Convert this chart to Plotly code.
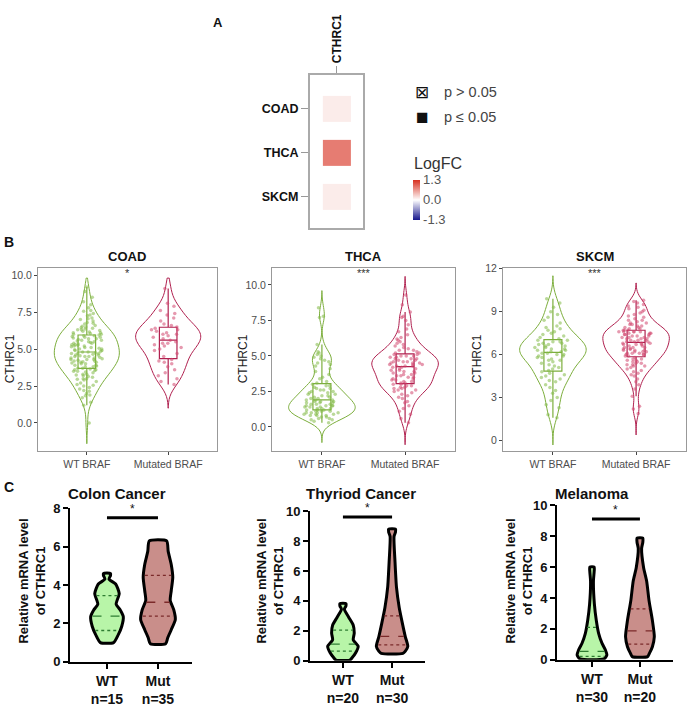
import numpy as np
import plotly.graph_objects as go

W, H = 689, 707
FONT = "Liberation Sans, Arial, sans-serif"

# ---- A: logFC heatmap ---------------------------------------------------
A_GENE = ["CTHRC1"]
A_CANCERS = ["COAD", "THCA", "SKCM"]
A_LOGFC = [0.12, 0.82, 0.12]
A_PLABELS = ["p > 0.05", "p ≤ 0.05"]

B_CANCERS = ["COAD", "THCA", "SKCM"]
B_GROUPS = ["WT BRAF", "Mutated BRAF"]
B_SIG = ["*", "***", "***"]

COAD_WT = [0.0, 1.2, 1.4, 1.7, 1.85, 1.9, 2.0, 2.15, 2.2, 2.3, 2.4, 2.5, 2.55, 2.6,
           2.7, 2.8, 2.9, 2.95, 3.0, 3.0, 3.1, 3.15, 3.2, 3.25, 3.3, 3.3, 3.4, 3.45,
           3.5, 3.5, 3.55, 3.6, 3.6, 3.65, 3.7, 3.7, 3.8, 3.8, 3.85, 3.9, 3.9, 4.0,
           4.0, 4.05, 4.1, 4.1, 4.15, 4.2, 4.2, 4.25, 4.3, 4.3, 4.3, 4.35, 4.4, 4.4,
           4.45, 4.5, 4.5, 4.5, 4.55, 4.6, 4.6, 4.65, 4.7, 4.7, 4.7, 4.75, 4.8, 4.8,
           4.85, 4.9, 4.9, 4.95, 5.0, 5.0, 5.05, 5.1, 5.1, 5.15, 5.2, 5.2, 5.25, 5.3,
           5.3, 5.35, 5.4, 5.4, 5.45, 5.5, 5.5, 5.55, 5.6, 5.6, 5.65, 5.7, 5.7, 5.75,
           5.8, 5.8, 5.85, 5.9, 5.9, 5.95, 6.0, 6.0, 6.05, 6.1, 6.1, 6.15, 6.2, 6.25,
           6.3, 6.3, 6.35, 6.4, 6.45, 6.5, 6.55, 6.6, 6.7, 6.75, 6.8, 6.9, 7.0, 7.05,
           7.1, 7.25, 7.3, 7.4, 7.55, 7.6, 7.8, 8.0, 8.2, 8.5, 8.9, 9.2]
COAD_MUT = [2.6, 2.8, 3.0, 3.2, 3.4, 3.6, 3.8, 4.0, 4.1, 4.2, 4.3,
            4.5, 4.7, 4.9, 5.0, 5.1, 5.2, 5.3, 5.4, 5.4, 5.5, 5.6,
            5.7, 5.8, 5.9, 6.0, 6.0, 6.1, 6.2, 6.3, 6.3, 6.4,
            6.5, 6.6, 6.7, 6.9, 7.1, 7.3, 7.4, 7.6, 7.9, 8.1, 9.1]
THCA_WT = [0.3, 0.4, 0.5, 0.5, 0.6, 0.6, 0.7, 0.7, 0.8, 0.8, 0.8, 0.9, 0.9, 0.9,
           1.0, 1.0, 1.0, 1.0, 1.1, 1.1, 1.1, 1.2, 1.2, 1.2,
           1.3, 1.3, 1.3, 1.4, 1.4, 1.4, 1.5, 1.5, 1.5, 1.5, 1.6, 1.6, 1.6, 1.7,
           1.7, 1.7, 1.8, 1.8, 1.8, 1.9, 1.9, 1.9,
           2.0, 2.0, 2.1, 2.1, 2.2, 2.2, 2.3, 2.3, 2.4, 2.4, 2.5, 2.5, 2.6, 2.6,
           2.7, 2.7, 2.8, 2.9, 2.9, 3.0,
           3.1, 3.2, 3.4, 3.5, 3.7, 3.9, 4.1, 4.3, 4.4, 4.5, 4.6, 4.7, 4.8, 4.9,
           5.0, 5.1, 5.2, 5.3, 5.8, 7.7, 7.8, 8.4]
THCA_MUT = [0.3, 0.6, 0.9, 1.1, 1.3, 1.5, 1.7, 1.8, 2.0, 2.1, 2.2, 2.3, 2.4, 2.5,
            2.6, 2.6, 2.7, 2.7, 2.8, 2.8, 2.9, 2.9, 3.0, 3.0,
            3.1, 3.1, 3.2, 3.2, 3.3, 3.3, 3.4, 3.4, 3.5, 3.5, 3.6, 3.6, 3.7, 3.7,
            3.8, 3.8, 3.9, 3.9, 4.0, 4.0, 4.1, 4.1, 4.2, 4.2,
            4.3, 4.3, 4.3, 4.4, 4.4, 4.4, 4.5, 4.5, 4.5, 4.6, 4.6, 4.6, 4.7, 4.7,
            4.8, 4.8, 4.8, 4.9, 4.9, 5.0, 5.0, 5.0, 5.1, 5.1,
            5.2, 5.2, 5.3, 5.4, 5.4, 5.5, 5.6, 5.7, 5.8, 5.9, 6.0, 6.1, 6.2, 6.3,
            6.5, 6.7, 6.9, 7.2, 7.5, 7.7, 7.8, 8.1, 8.6, 9.3]
SKCM_WT = [1.6, 1.8, 2.3, 2.5, 2.8, 3.0, 3.3, 3.5, 3.7, 3.9, 4.1, 4.2, 4.3, 4.4,
           4.5, 4.6, 4.7, 4.8,
           4.9, 5.0, 5.1, 5.2, 5.3, 5.4, 5.5, 5.6, 5.6, 5.7, 5.8, 5.8, 5.9, 5.9,
           6.0, 6.0, 6.1, 6.1,
           6.2, 6.2, 6.3, 6.3, 6.4, 6.4, 6.5, 6.5, 6.6, 6.6, 6.7, 6.7, 6.8, 6.8,
           6.9, 6.9, 7.0, 7.0,
           7.1, 7.2, 7.3, 7.4, 7.5, 7.6, 7.7, 7.8, 7.9, 8.0, 8.2, 8.4, 8.6, 8.8,
           9.0, 9.3, 9.6, 9.9]
SKCM_MUT = [1.9, 2.2, 2.4, 3.1, 3.6, 3.9, 4.1, 4.3, 4.5, 4.6, 4.7, 4.8, 4.9, 5.0,
            5.1, 5.2, 5.2, 5.3, 5.3, 5.4, 5.4, 5.5, 5.5, 5.6, 5.6, 5.7, 5.7, 5.8,
            5.9, 5.9, 6.0, 6.0, 6.0, 6.1, 6.1, 6.1, 6.2, 6.2, 6.2, 6.3, 6.3, 6.3,
            6.4, 6.4, 6.4, 6.5, 6.5, 6.5, 6.6, 6.6, 6.7, 6.7, 6.7, 6.8, 6.8, 6.8,
            6.9, 6.9, 6.9, 7.0, 7.0, 7.0, 7.1, 7.1, 7.1, 7.2, 7.2, 7.2, 7.3, 7.3,
            7.3, 7.4, 7.4, 7.4, 7.5, 7.5, 7.5, 7.6, 7.6, 7.6, 7.6, 7.6, 7.7, 7.7,
            7.7, 7.8, 7.8, 7.9, 7.9, 8.0, 8.0, 8.1, 8.1, 8.2, 8.2, 8.3, 8.4, 8.4,
            8.5, 8.6, 8.7, 8.8, 8.9, 9.0, 9.1, 9.2, 9.3, 9.4, 9.5, 9.6, 9.7, 9.8]

# violin extents (ends of the tails)
COAD_SPAN = ([-1.4, 9.8], [1.0, 9.8])
THCA_SPAN = ([-1.1, 9.6], [-1.25, 10.6])
SKCM_SPAN = ([-0.3, 11.5], [0.4, 11.0])

# ---- C: qPCR relative mRNA, WT vs Mut -----------------------------------
C_TITLES = ["Colon Cancer", "Thyriod Cancer", "Melanoma"]
C_N_WT = [15, 20, 30]
C_N_MUT = [35, 30, 20]
C_SIG_LEVEL = [7.5, 9.6, 9.1]
C_YMAX = [8, 10, 10]

# violin outlines: level -> half width (in units of group spacing)
COLON_WT_LEVELS = [1.0, 1.4, 1.85, 2.35, 2.7, 3.0, 3.55, 4.05, 4.3, 4.5, 4.6]
COLON_WT_WIDTH = [0.13, 0.22, 0.29, 0.32, 0.26, 0.18, 0.24, 0.17, 0.04, 0.07, 0.07]
COLON_MUT_LEVELS = [0.94, 1.24, 1.67, 2.2, 2.7, 3.2, 3.7, 4.4, 5.07, 5.75, 6.3]
COLON_MUT_WIDTH = [0.15, 0.19, 0.26, 0.34, 0.31, 0.24, 0.26, 0.29, 0.26, 0.2, 0.17]
THYROID_WT_LEVELS = [0.05, 0.22, 0.54, 0.97, 1.4, 1.84, 2.38, 2.9, 3.45, 3.65, 3.82]
THYROID_WT_WIDTH = [0.14, 0.19, 0.26, 0.31, 0.21, 0.23, 0.21, 0.12, 0.03, 0.06, 0.06]
THYROID_MUT_LEVELS = [0.5, 0.65, 0.97, 1.6, 2.5, 3.56, 4.9, 6.6, 8.3, 8.6, 8.8]
THYROID_MUT_WIDTH = [0.22, 0.27, 0.32, 0.27, 0.21, 0.145, 0.09, 0.06, 0.04, 0.07, 0.07]
MELANOMA_WT_LEVELS = [0.06, 0.32, 0.64, 1.06, 1.7, 2.55, 3.6, 5.1, 5.7, 6.0]
MELANOMA_WT_WIDTH = [0.25, 0.31, 0.28, 0.21, 0.14, 0.09, 0.05, 0.03, 0.045, 0.045]
MELANOMA_MUT_LEVELS = [0.21, 0.43, 0.85, 1.49, 2.55, 3.83, 5.1, 5.96, 7.2, 7.6, 7.87]
MELANOMA_MUT_WIDTH = [0.16, 0.2, 0.26, 0.3, 0.26, 0.19, 0.14, 0.077, 0.035, 0.06, 0.06]

# quartiles (q1, median, q3)
COLON_WT_Q = [1.63, 2.38, 3.45]
COLON_MUT_Q = [2.38, 3.1, 4.5]
THYROID_WT_Q = [0.65, 1.12, 2.05]
THYROID_MUT_Q = [1.07, 1.63, 3.0]
MELANOMA_WT_Q = [0.22, 0.55, 2.1]
MELANOMA_MUT_Q = [1.02, 1.87, 3.3]

GREEN = "#7cae3c"
GREEN_PT = "rgba(130,185,70,0.55)"
RED = "#b0204f"
RED_PT = "rgba(210,70,110,0.55)"
WT_FILL = "#b8f5a8"
MUT_FILL = "#c98e8a"


def xd(a, b):
    return [a / W, b / W]


def yd(top, bottom):
    return [1 - bottom / H, 1 - top / H]


def note(text, x, y, size, bold=False, angle=0, color="#111", **kw):
    d = dict(text=f"<b>{text}</b>" if bold else text, x=x / W, y=1 - y / H,
             xref="paper", yref="paper", showarrow=False, textangle=angle,
             xanchor="center", yanchor="middle",
             font=dict(size=size, color=color, family=FONT))
    d.update(kw)
    return d


fig = go.Figure()
annotations = []

# ---------------- Panel A
fig.add_trace(go.Heatmap(
    z=[[v] for v in A_LOGFC], x=A_GENE, y=A_CANCERS,
    colorscale=[[0, "#16168c"], [0.5, "#ffffff"], [1, "#d7301f"]],
    zmin=-1.3, zmax=1.3, ygap=18, hoverinfo="skip",
    colorbar=dict(
        x=413 / W, xanchor="left", y=1 - 197 / H, yanchor="middle",
        len=40, lenmode="pixels", thickness=7, outlinewidth=0, ticks="",
        xpad=0, ypad=0,
        tickvals=[1.3, 0, -1.3], ticktext=["1.3", "0.0", "-1.3"],
        tickfont=dict(size=13, color="#555")),
    xaxis="x", yaxis="y"))

annotations.append(note("LogFC", 412, 160, 16, color="#333", xanchor="left"))
annotations.append(note("⊠", 422, 87, 17, color="#111"))
annotations.append(note("■", 422, 112, 21, color="#111"))
for k, lab in enumerate(A_PLABELS):
    annotations.append(note(lab, 442, 87 + 25 * k, 14.5, color="#444", xanchor="left"))
annotations.append(note("A", 218, 16, 13, bold=True))

# ---------------- Panel B
b_sets = [(COAD_WT, COAD_MUT, COAD_SPAN, (0.55, 0.6)),
          (THCA_WT, THCA_MUT, THCA_SPAN, (0.45, 0.5)),
          (SKCM_WT, SKCM_MUT, SKCM_SPAN, (0.6, 0.45))]
for i, (wt, mut, spans, bws) in enumerate(b_sets):
    ax = i + 2
    for grp, vals, span, bw, col, pcol in [
            (B_GROUPS[0], wt, spans[0], bws[0], GREEN, GREEN_PT),
            (B_GROUPS[1], mut, spans[1], bws[1], RED, RED_PT)]:
        fig.add_trace(go.Violin(
            x=[grp] * len(vals), y=vals, xaxis=f"x{ax}", yaxis=f"y{ax}",
            line=dict(color=col, width=1), fillcolor="rgba(255,255,255,0)",
            points="all", jitter=0.55, pointpos=0,
            marker=dict(size=3.5, color=pcol, line=dict(width=0)),
            box=dict(visible=True, width=0.27, fillcolor="rgba(255,255,255,0)",
                     line=dict(color=col, width=1.2)),
            meanline=dict(visible=False), spanmode="manual", span=span,
            bandwidth=bw, width=0.8, showlegend=False, hoverinfo="skip"))

annotations.append(note("B", 9, 240, 14, bold=True))
b_dom = [(38, 217), (272, 455), (503, 686)]
b_titles_x = [127, 363, 595]
b_ylab_x = [10, 243, 477]
for i, cancer in enumerate(B_CANCERS):
    annotations.append(note(cancer, b_titles_x[i], 255, 13, bold=True))
    annotations.append(note("CTHRC1", b_ylab_x[i], 360, 12, angle=-90, color="#222"))
    annotations.append(dict(text=B_SIG[i], x=0.5, y=1 - 272 / H, xref=f"x{i + 2}",
                            yref="paper", showarrow=False, xanchor="center",
                            yanchor="middle",
                            font=dict(size=11, color="#333", family=FONT)))

# ---------------- Panel C
c_sets = [
    (COLON_WT_LEVELS, COLON_WT_WIDTH, COLON_WT_Q, COLON_MUT_LEVELS, COLON_MUT_WIDTH, COLON_MUT_Q),
    (THYROID_WT_LEVELS, THYROID_WT_WIDTH, THYROID_WT_Q, THYROID_MUT_LEVELS, THYROID_MUT_WIDTH, THYROID_MUT_Q),
    (MELANOMA_WT_LEVELS, MELANOMA_WT_WIDTH, MELANOMA_WT_Q, MELANOMA_MUT_LEVELS, MELANOMA_MUT_WIDTH, MELANOMA_MUT_Q),
]
for i, (wl, ww, wq, ml, mw, mq) in enumerate(c_sets):
    ax = i + 5
    for cx, lv, hw, q, fill, qcol in [(0, wl, ww, wq, WT_FILL, "#2e7d32"),
                                      (1, ml, mw, mq, MUT_FILL, "#7b2a2a")]:
        lv = np.asarray(lv)
        hw = np.asarray(hw)
        xs = np.concatenate([cx + hw, (cx - hw)[::-1], [cx + hw[0]]])
        ys = np.concatenate([lv, lv[::-1], [lv[0]]])
        fig.add_trace(go.Scatter(
            x=xs, y=ys, mode="lines", fill="toself", fillcolor=fill,
            line=dict(color="black", width=3, shape="spline", smoothing=0.6),
            xaxis=f"x{ax}", yaxis=f"y{ax}", showlegend=False, hoverinfo="skip"))
        for k, qv in enumerate(q):
            w = float(np.interp(qv, lv, hw)) * 0.9
            fig.add_trace(go.Scatter(
                x=[cx - w, cx + w], y=[qv, qv], mode="lines",
                line=dict(color=qcol, width=1.3, dash="dash" if k == 1 else "dot"),
                xaxis=f"x{ax}", yaxis=f"y{ax}", showlegend=False, hoverinfo="skip"))
    fig.add_trace(go.Scatter(
        x=[0, 1], y=[C_SIG_LEVEL[i]] * 2, mode="lines",
        line=dict(color="black", width=3), xaxis=f"x{ax}", yaxis=f"y{ax}",
        showlegend=False, hoverinfo="skip"))
    annotations.append(dict(text="*", x=0.5, y=C_SIG_LEVEL[i], xref=f"x{ax}", yref=f"y{ax}",
                            yshift=9, showarrow=False, xanchor="center", yanchor="middle",
                            font=dict(size=12, color="#111", family=FONT)))

annotations.append(note("C", 9, 490, 14, bold=True))
c_title_x = [117, 361, 592]
c_ylab_x = [32, 270, 519]
for i, t in enumerate(C_TITLES):
    annotations.append(note(t, c_title_x[i], 497, 15, bold=True))
    annotations.append(note("Relative mRNA level<br>of CTHRC1", c_ylab_x[i], 587, 13,
                            bold=True, angle=-90))

# ---------------- axes
layout_axes = {}
layout_axes["xaxis"] = dict(
    domain=xd(310, 363), anchor="y", type="category", range=[-0.96, 0.93],
    side="top", ticks="outside", ticklen=7, tickcolor="#999", tickangle=-90,
    tickfont=dict(size=12, color="#111", weight="bold"),
    showline=True, mirror=True, linecolor="#aaa", linewidth=2, showgrid=False)
layout_axes["yaxis"] = dict(
    domain=yd(69, 226), anchor="x", type="category", range=[2.71, -0.78],
    ticks="outside", ticklen=7, tickcolor="#999",
    tickfont=dict(size=12.5, color="#111", weight="bold"),
    showline=True, mirror=True, linecolor="#aaa", linewidth=2, showgrid=False)

b_yranges = [[-1.92, 10.46], [-1.72, 11.17], [-0.75, 12.02]]
b_ticks = [[0, 2.5, 5, 7.5, 10], [0, 2.5, 5, 7.5, 10], [0, 3, 6, 9, 12]]
b_ticktext = [["0.0", "2.5", "5.0", "7.5", "10.0"], ["0.0", "2.5", "5.0", "7.5", "10.0"],
              ["0", "3", "6", "9", "12"]]
for i in range(3):
    n = i + 2
    layout_axes[f"xaxis{n}"] = dict(
        domain=xd(*b_dom[i]), anchor=f"y{n}", type="category",
        categoryorder="array", categoryarray=B_GROUPS, range=[-0.6, 1.6],
        showline=True, mirror=True, linecolor="#999", linewidth=1,
        ticks="outside", ticklen=3, tickcolor="#444",
        tickfont=dict(size=10.5, color="#4d4d4d"), showgrid=False)
    layout_axes[f"yaxis{n}"] = dict(
        domain=yd(267, 454), anchor=f"x{n}", range=b_yranges[i],
        tickvals=b_ticks[i], ticktext=b_ticktext[i],
        showline=True, mirror=True, linecolor="#999", linewidth=1,
        ticks="outside", ticklen=3, tickcolor="#444",
        tickfont=dict(size=10.5, color="#4d4d4d"), showgrid=False, zeroline=False)

c_xdom = [(70, 192), (310, 425), (557, 673)]
c_ydom = [(512, 669), (515, 668), (509, 667)]
c_xrange = [[-0.725, 1.667], [-0.67, 1.67], [-0.73, 1.69]]
for i in range(3):
    n = i + 5
    layout_axes[f"xaxis{n}"] = dict(
        domain=xd(*c_xdom[i]), anchor=f"y{n}", range=c_xrange[i],
        tickvals=[0, 1], ticktext=[f"WT<br>n={C_N_WT[i]}", f"Mut<br>n={C_N_MUT[i]}"],
        showline=True, linecolor="black", linewidth=2, ticks="outside",
        ticklen=5, tickwidth=2, tickcolor="black",
        tickfont=dict(size=14, color="#111", weight="bold"),
        showgrid=False, zeroline=False)
    layout_axes[f"yaxis{n}"] = dict(
        domain=yd(*c_ydom[i]), anchor=f"x{n}", range=[0, C_YMAX[i]],
        tickvals=list(range(0, C_YMAX[i] + 1, 2)),
        showline=True, linecolor="black", linewidth=2, ticks="outside",
        ticklen=5, tickwidth=2, tickcolor="black",
        tickfont=dict(size=13, color="#111", weight="bold"),
        showgrid=False, zeroline=False)

fig.update_layout(
    width=W, height=H, margin=dict(l=0, r=0, t=0, b=0),
    paper_bgcolor="white", plot_bgcolor="white",
    font=dict(family=FONT, color="#222"),
    violinmode="overlay", showlegend=False,
    annotations=annotations,
    **layout_axes,
)

# the page body has an 8px default margin; drop it so the figure fills the window
fig.write_html("out.html", config={"displayModeBar": False},
               post_script="document.body.style.margin = '0';")
